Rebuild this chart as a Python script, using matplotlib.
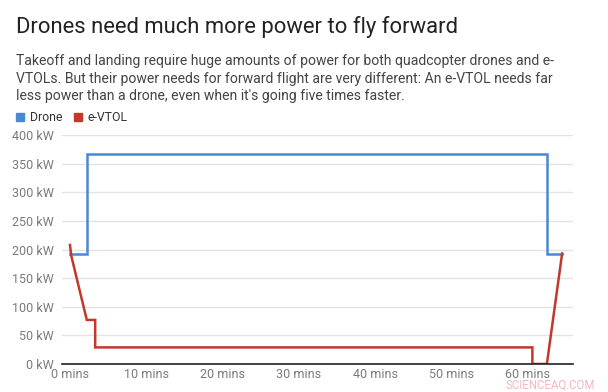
import matplotlib
matplotlib.use("Agg")
import matplotlib.pyplot as plt
from matplotlib.patches import Rectangle

plt.rcParams['font.family'] = ['Roboto', 'DejaVu Sans']

# Data (minutes, kW)
drone_t = [0, 2.2, 2.2, 62.5, 62.5, 64.5]
drone_kw = [193, 193, 366, 366, 193, 193]
evtol_t = [0, 0.15, 2.2, 3.3, 3.3, 60.6, 60.6, 62.5, 64.5]
evtol_kw = [208, 190, 77, 77, 29, 29, 0, 0, 193]
y_ticks = [0, 50, 100, 150, 200, 250, 300, 350, 400]
x_ticks = [0, 10, 20, 30, 40, 50, 60]

title = "Drones need much more power to fly forward"
subtitle_lines = [
    "Takeoff and landing require huge amounts of power for both quadcopter drones and e-",
    "VTOLs. But their power needs for forward flight are very different: An e-VTOL needs far",
    "less power than a drone, even when it's going five times faster.",
]
series_names = ["Drone", "e-VTOL"]
colors = ["#4a88d4", "#c0392b"]

W, H = 608, 392
fig = plt.figure(figsize=(W/100, H/100), dpi=100)

def px(x, y):
    return x / W, 1 - y / H

ax = fig.add_axes([62/W, 1-364/H, (573-62)/W, (364-135)/H])
# x scale: 0 min at x=70, 7.63 px per min
xmin = (62 - 70) / 7.63
xmax = (573 - 70) / 7.63
ax.set_xlim(xmin, xmax)
ax.set_ylim(0, 400)

ax.plot(drone_t, drone_kw, color=colors[0], lw=1.8, solid_joinstyle='miter', zorder=3)
ax.plot(evtol_t, evtol_kw, color=colors[1], lw=1.8, solid_joinstyle='miter', zorder=3)

ax.set_yticks(y_ticks)
ax.set_yticklabels([f"{v} kW" for v in y_ticks])
ax.set_xticks(x_ticks)
ax.set_xticklabels([f"{v} mins" for v in x_ticks])
ax.grid(axis='y', color='#e3e3e3', lw=1)
ax.set_axisbelow(True)
for s in ['top', 'right', 'left']:
    ax.spines[s].set_visible(False)
ax.spines['bottom'].set_color('#222222')
ax.spines['bottom'].set_linewidth(1.2)
ax.spines['bottom'].set_zorder(4)
ax.tick_params(axis='both', length=0, colors='#7a7a7a', labelsize=9)
ax.tick_params(axis='y', pad=6)
ax.tick_params(axis='x', pad=3)

fig.text(*px(16, 27), title, fontsize=15.8, color='#222222', va='center', ha='left')
for i, line in enumerate(subtitle_lines):
    fig.text(*px(16, 61 + 17.5 * i), line, fontsize=10.05, color='#444444',
             va='center', ha='left')

# legend
fig.patches.append(Rectangle(px(16, 121), 8/W, 8/H, transform=fig.transFigure,
                             color=colors[0], figure=fig))
fig.text(*px(30, 117), series_names[0], fontsize=8.8, color='#333333', va='center', ha='left')
fig.patches.append(Rectangle(px(74, 121), 8/W, 8/H, transform=fig.transFigure,
                             color=colors[1], figure=fig))
fig.text(*px(88, 117), series_names[1], fontsize=8.8, color='#333333', va='center', ha='left')

fig.text(*px(550, 385), "SCIENCEAQ.COM", fontsize=8.3, color='#f2b8be', va='center', ha='center')

fig.savefig("out.png", dpi=100, facecolor='white')
